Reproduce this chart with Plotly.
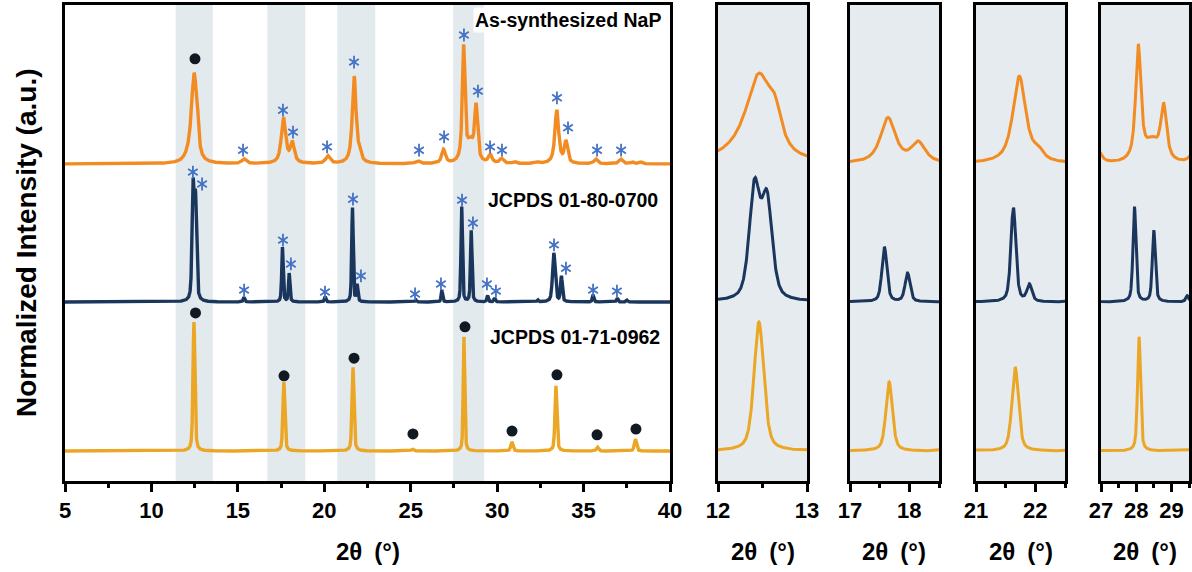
import numpy as np
import plotly.graph_objects as go

W, H = 1192, 572

# ---------------- data ----------------
# peak lists: position (2theta, deg), height (normalized units), FWHM (deg)
nap_pos = [12.30, 12.46, 12.64, 15.35, 17.64, 18.15, 20.2, 21.73, 22.05, 25.4, 26.9, 28.06, 28.45, 28.78,
           29.6, 30.25, 31.0, 32.3, 33.45, 33.98, 35.7, 37.15, 37.8, 38.3]
nap_hts = [2.5, 16.0, 6.5, 1.0, 9.5, 4.2, 1.6, 18.3, 1.8, 0.6, 2.9, 24.0, 4.0, 11.3,
           1.7, 1.0, 0.4, 0.3, 11.2, 4.5, 1.0, 1.0, 0.4, 0.4]
nap_wid = [0.6, 0.32, 0.18, 0.3, 0.3, 0.28, 0.3, 0.26, 0.2, 0.3, 0.25, 0.18, 0.45, 0.2,
           0.25, 0.25, 0.25, 0.25, 0.26, 0.22, 0.25, 0.25, 0.22, 0.22]
nap_offset = 66.6

ref1_pos = [12.41, 12.55, 15.35, 17.58, 17.97, 20.05, 21.63, 21.9, 25.3, 26.8, 27.95, 28.5, 29.45,
            29.85, 32.35, 33.28, 33.72, 35.55, 36.95, 37.5]
ref1_hts = [23.3, 20.5, 1.0, 11.5, 6.0, 1.1, 19.8, 3.5, 0.4, 2.5, 20.0, 15.0, 1.3,
            0.8, 0.4, 10.3, 5.3, 1.5, 0.8, 0.4]
ref1_wid = [0.14, 0.14, 0.1, 0.1, 0.1, 0.1, 0.1, 0.1, 0.1, 0.1, 0.1, 0.1, 0.1,
            0.1, 0.1, 0.18, 0.12, 0.1, 0.1, 0.1]
ref1_offset = 37.6

ref2_pos = [12.46, 17.66, 21.66, 25.1, 28.08, 30.85, 33.4, 35.8, 38.0]
ref2_hts = [27.1, 14.5, 17.6, 0.4, 24.0, 1.9, 13.7, 0.8, 2.5]
ref2_wid = [0.13, 0.13, 0.13, 0.15, 0.1, 0.15, 0.13, 0.15, 0.15]
ref2_offset = 6.3

# peak markers (2theta, intensity)
nap_star_x = [15.30, 17.61, 18.19, 20.16, 21.72, 25.48, 26.93, 28.08, 28.89, 29.59, 30.28, 33.46, 34.10, 35.78, 37.17]
nap_star_y = [69.5, 77.9, 73.3, 70.2, 88.0, 69.5, 72.3, 93.7, 81.9, 70.2, 69.5, 80.5, 74.2, 69.5, 69.5]
nap_dot_x = [12.52]
nap_dot_y = [88.7]
ref1_star_x = [12.40, 12.93, 15.36, 17.61, 18.07, 20.04, 21.66, 22.12, 25.25, 26.75, 27.97, 28.60, 29.41, 29.93,
               33.29, 33.98, 35.55, 36.93]
ref1_star_y = [64.9, 62.4, 40.1, 50.6, 45.6, 39.7, 59.2, 43.1, 39.3, 41.4, 59.0, 54.2, 41.4, 39.9,
               49.6, 44.7, 40.1, 39.9]
ref2_dot_x = [12.55, 17.67, 21.72, 25.13, 28.14, 30.86, 33.46, 35.78, 38.03]
ref2_dot_y = [35.3, 22.1, 25.8, 9.9, 32.4, 10.5, 22.3, 9.7, 10.9]

bands = [(11.4, 13.55), (16.7, 18.9), (20.75, 22.95), (27.45, 29.25)]
inset_ranges = [(12, 13), (17, 18.5), (21, 22.5), (27, 29.5)]

labels = ["As-synthesized NaP", "JCPDS 01-80-0700", "JCPDS 01-71-0962"]
label_x = [39.6, 39.4, 39.55]
label_y = [96.8, 59.0, 30.3]

x_title = "2θ\u2002(°)"
y_title = "Normalized Intensity (a.u.)"

# ---------------- build curves ----------------
x = np.arange(5, 40.0001, 0.004)


def pattern(pos, hts, wid, eta, offset):
    y = np.full_like(x, offset)
    for p, h, w in zip(pos, hts, wid):
        d = (x - p) / w
        y += h * (eta / (1 + 4 * d * d) + (1 - eta) * np.exp(-4 * np.log(2) * d * d))
    return y


y_nap = pattern(nap_pos, nap_hts, nap_wid, 0.8, nap_offset)
y_ref1 = pattern(ref1_pos, ref1_hts, ref1_wid, 0.5, ref1_offset)
y_ref2 = pattern(ref2_pos, ref2_hts, ref2_wid, 0.5, ref2_offset)

C_NAP = "#F28C22"
C_REF1 = "#1B365D"
C_REF2 = "#EBA626"
C_STAR = "#4472C4"
C_DOT = "#111A22"
FONT = "Liberation Sans"


def xp(p):  # pixel -> paper x
    return p / W


def yp(p):  # pixel -> paper y
    return 1 - p / H


fig = go.Figure()

axes = [("x", "y")] + [(f"x{i}", f"y{i}") for i in range(2, 6)]
curves = [(y_nap, C_NAP), (y_ref1, C_REF1), (y_ref2, C_REF2)]
for ax, ay in axes:
    lw = 3.4 if ax == "x" else 3
    for yy, col in curves:
        fig.add_trace(go.Scatter(x=x, y=yy, mode="lines", line=dict(color=col, width=lw),
                                 xaxis=ax, yaxis=ay, showlegend=False, hoverinfo="skip"))

# markers on main panel
for sx, sy in [(nap_star_x, nap_star_y), (ref1_star_x, ref1_star_y)]:
    for sym in ["y-up-open", "y-down-open"]:
        fig.add_trace(go.Scatter(x=sx, y=sy, mode="markers",
                                 marker=dict(symbol=sym, size=8, color=C_STAR,
                                             line=dict(width=1.8, color=C_STAR)),
                                 showlegend=False, xaxis="x", yaxis="y"))
for dx, dy in [(nap_dot_x, nap_dot_y), (ref2_dot_x, ref2_dot_y)]:
    fig.add_trace(go.Scatter(x=dx, y=dy, mode="markers",
                             marker=dict(symbol="circle", size=11, color=C_DOT),
                             showlegend=False, xaxis="x", yaxis="y"))

# ---------------- layout ----------------
y_dom = [yp(481), yp(5)]
main_dom = [xp(65), xp(670)]
inset_doms = [[xp(718), xp(807)], [xp(850), xp(939)], [xp(976), xp(1065)], [xp(1101), xp(1189)]]

tickfont = dict(family=FONT, size=22, color="black", weight="bold")
xcommon = dict(showline=True, linewidth=3, linecolor="black", mirror=True,
               ticks="outside", ticklen=8, tickwidth=2.5, tickcolor="black", automargin=False,
               showgrid=False, zeroline=False, tickfont=tickfont)
ycommon = dict(showline=True, linewidth=3, linecolor="black", mirror=True, automargin=False,
               showticklabels=False, ticks="", showgrid=False, zeroline=False,
               range=[0, 100], domain=y_dom)

layout = dict(
    width=W, height=H, margin=dict(l=0, r=0, t=0, b=0), autosize=False,
    plot_bgcolor="white", paper_bgcolor="white",
    xaxis=dict(domain=main_dom, range=[5, 40], tick0=5, dtick=5, anchor="y",
               minor=dict(ticks="outside", ticklen=4, tickwidth=2.5, dtick=2.5, tickcolor="black"),
               **xcommon),
    yaxis=dict(anchor="x", **ycommon),
)
for i, (dom, rg) in enumerate(zip(inset_doms, inset_ranges), start=2):
    layout[f"xaxis{i}"] = dict(domain=dom, range=list(rg), tick0=rg[0], dtick=1, anchor=f"y{i}",
                               minor=dict(ticks="outside", ticklen=4, tickwidth=2.5, dtick=0.5,
                                          tickcolor="black"),
                               **xcommon)
    layout[f"yaxis{i}"] = dict(anchor=f"x{i}", **ycommon)
fig.update_layout(**layout)

shapes = []
for b0, b1 in bands:
    shapes.append(dict(type="rect", xref="x", yref="y domain", x0=b0, x1=b1, y0=0, y1=1,
                       fillcolor="#E3EAEE", line=dict(width=0), layer="below"))
for i in range(2, 6):
    shapes.append(dict(type="rect", xref=f"x{i} domain", yref=f"y{i} domain", x0=0, x1=1, y0=0, y1=1,
                       fillcolor="#E6EBEF", line=dict(width=0), layer="below"))
fig.update_layout(shapes=shapes)

ann = []
for t, lx, ly, bg in zip(labels, label_x, label_y, ["white", "rgba(0,0,0,0)", "rgba(0,0,0,0)"]):
    ann.append(dict(x=lx, y=ly, xref="x", yref="y", text=t, showarrow=False, xanchor="right",
                    yanchor="middle", bgcolor=bg, borderpad=1,
                    font=dict(family=FONT, size=19.5, color="black", weight="bold")))
titlefont = dict(family=FONT, size=24, color="black", weight="bold")
for dom in [main_dom] + inset_doms:
    ann.append(dict(x=(dom[0] + dom[1]) / 2, y=yp(551), xref="paper", yref="paper",
                    text=x_title, showarrow=False, xanchor="center", yanchor="middle", font=titlefont))
ann.append(dict(x=xp(27), y=yp(243), xref="paper", yref="paper", text=y_title,
                showarrow=False, textangle=-90, xanchor="center", yanchor="middle",
                font=dict(family=FONT, size=28, color="black", weight="bold")))
fig.update_layout(annotations=ann)

fig.write_html("out.html", config={"displayModeBar": False},
               post_script="document.body.style.margin='0';document.body.style.padding='0';")
